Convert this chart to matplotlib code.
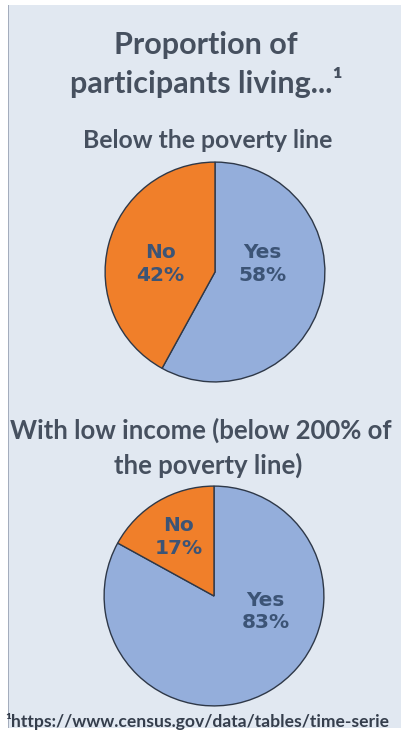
import matplotlib.pyplot as plt
from matplotlib.patches import Rectangle

# data
labels = ['Yes', 'No']
poverty = [58, 42]
low_income = [83, 17]
colors = ['#94aedb', '#f07f2a']

text_col = '#46505f'
label_col = '#3c5476'

fig = plt.figure(figsize=(4.01, 7.38), dpi=100)
fig.patch.set_facecolor('white')

# slide background with grey left border
fig.patches.append(Rectangle((8 / 401, 1 - 728 / 738), 393 / 401, 723 / 738,
                             transform=fig.transFigure, facecolor='#e1e8f1',
                             edgecolor='none', zorder=-10))
fig.patches.append(Rectangle((8 / 401, 1 - 728 / 738), 1.2 / 401, 723 / 738,
                             transform=fig.transFigure, facecolor='#a4adbd',
                             edgecolor='none', zorder=-9))

title_font = dict(family=['Lato', 'DejaVu Sans'], fontweight='bold', color=text_col)

fig.text(206 / 401, 1 - 45 / 738, 'Proportion of', ha='center', va='center', fontsize=22, **title_font)
fig.text(206 / 401, 1 - 83 / 738, 'participants living...\u00b9', ha='center', va='center', fontsize=22, **title_font)
fig.text(208 / 401, 1 - 140 / 738, 'Below the poverty line', ha='center', va='center', fontsize=17.8, **title_font)
fig.text(201 / 401, 1 - 430 / 738, 'With low income (below 200% of', ha='center', va='center', fontsize=18.5, **title_font)
fig.text(208 / 401, 1 - 465 / 738, 'the poverty line)', ha='center', va='center', fontsize=18.5, **title_font)
fig.text(5 / 401, 1 - 721 / 738, '\u00b9https://www.census.gov/data/tables/time-serie', ha='left', va='center',
         fontsize=12.6, family=['Lato', 'DejaVu Sans'], fontweight='bold', color='#353e4c')


def draw_pie(cx, cy, r, values, label_pos):
    ax = fig.add_axes([(cx - r) / 401, 1 - (cy + r) / 738, 2 * r / 401, 2 * r / 738])
    ax.pie(values, colors=colors, startangle=90, counterclock=False, radius=1,
           wedgeprops=dict(edgecolor='#2e3848', linewidth=1.0))
    ax.set_xlim(-1.01, 1.01)
    ax.set_ylim(-1.01, 1.01)
    ax.set_aspect('auto')
    ax.axis('off')
    for lab, v, (x, y) in zip(labels, values, label_pos):
        ax.text(x, y, f'{lab}\n{v}%', ha='center', va='center', fontsize=14.5,
                fontweight='bold', color=label_col, linespacing=1.25, family='DejaVu Sans')
    return ax


draw_pie(215, 272, 111, poverty, [(0.43, 0.07), (-0.50, 0.07)])
draw_pie(214, 596, 111, low_income, [(0.47, -0.14), (-0.32, 0.54)])

plt.savefig('out.png', dpi=100)
